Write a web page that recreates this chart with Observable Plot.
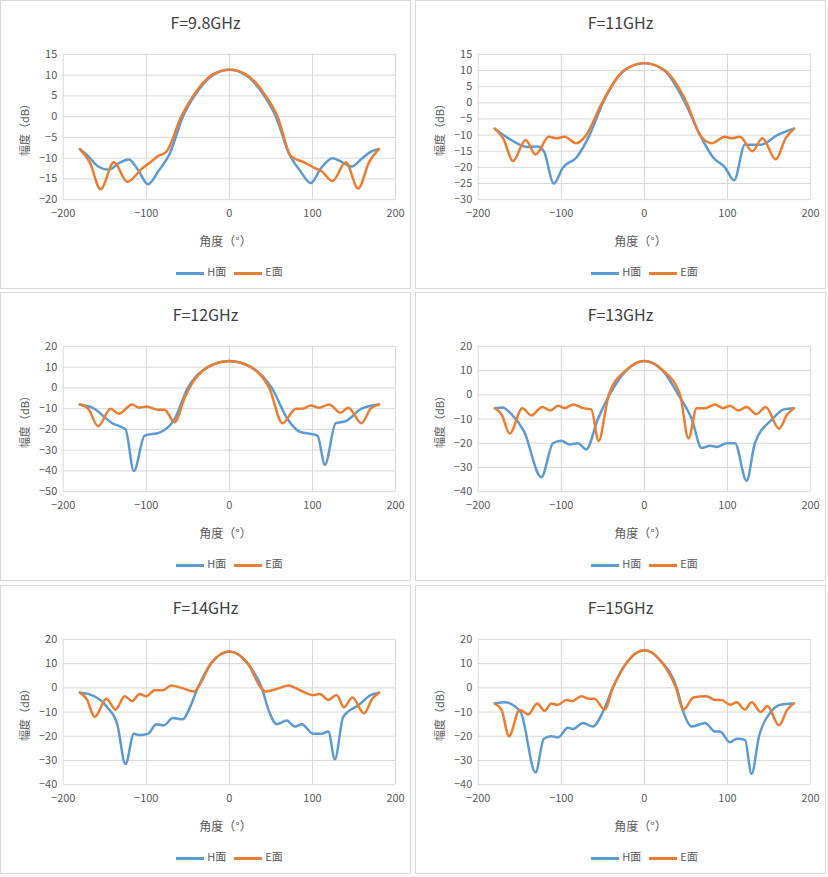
<!DOCTYPE html>
<html><head><meta charset="utf-8">
<script src="https://cdn.jsdelivr.net/npm/d3@7"></script>
<script src="https://cdn.jsdelivr.net/npm/@observablehq/plot@0.6"></script>
<style>
body{margin:0;background:#fff;font-family:"Noto Sans CJK SC","Noto Sans",sans-serif;color:#595959}
.panel{position:absolute;width:411px;height:289px;border:1px solid #d9d9d9;box-sizing:border-box;background:#fff}
.title{position:absolute;top:9px;left:0;right:0;text-align:center;font-size:16px;color:#404040}
.svgwrap{position:absolute;top:35px;left:0}
.xl{position:absolute;top:231px;left:0;right:0;text-align:center;font-size:12px;padding-left:40px}
.lg{position:absolute;top:262px;left:0;right:0;text-align:center;font-size:11px;padding-left:40px}
.sw{display:inline-block;width:28px;height:3px;vertical-align:middle;margin:0 3px 0 8px}
</style></head><body>
<script>
const titles = ["F=9.8GHz","F=11GHz","F=12GHz","F=13GHz","F=14GHz","F=15GHz"];
const yDomains = [[-20,15],[-30,15],[-50,20],[-40,20],[-40,20],[-40,20]];
const yTickStep = [5,5,10,10,10,10];
const xTicks = [-200,-100,0,100,200];

// [angle, dB]
const H98 = [[-180,-7.8],[-170,-9.5],[-158,-12],[-145,-12.8],[-133,-11.2],[-121,-10.3],[-110,-12.8],[-98,-16.3],[-85,-13],[-72,-9],[-56,0],[-42,5],[-20,10],[0,11.3],[20,10],[42,5],[56,0],[72,-9],[85,-13],[98,-16],[110,-12.5],[124,-10],[136,-11],[147,-12],[160,-10],[170,-8.5],[180,-7.8]];
const E98 = [[-180,-7.8],[-168,-11],[-155,-17.5],[-139,-11],[-123,-15.7],[-105,-12.5],[-95,-11],[-86,-9.5],[-76,-8.5],[-58,0],[-42,5.5],[-20,10.2],[0,11.3],[20,10.2],[42,5.5],[58,0],[74,-9.5],[90,-11],[104,-12.5],[110,-13],[124,-15.5],[140,-11],[155,-17.3],[168,-11],[180,-7.8]];
const H11 = [[-180,-8],[-157,-12],[-141,-13.7],[-129,-13.5],[-121,-15],[-109,-25],[-98,-20],[-82,-17],[-66,-10],[-50,0],[-24,10],[0,12.3],[24,10],[49,0],[67,-10],[83,-17],[97,-20],[108,-24],[121,-13],[140,-13],[160,-10],[180,-8]];
const E11 = [[-180,-8],[-170,-11],[-158,-18],[-143,-11.5],[-131,-16],[-115,-10.5],[-106,-11],[-96,-10.5],[-82,-12.5],[-70,-10],[-51,0],[-24,10.2],[0,12.3],[24,10.2],[51,0],[67,-10],[81,-12.5],[97,-10.5],[105,-11],[115,-10.5],[130,-15],[142,-11],[158,-17.5],[170,-11],[180,-8]];
const H12 = [[-180,-8],[-165,-9.5],[-141,-17],[-125,-20],[-115,-40],[-102,-23],[-84,-21.5],[-66,-15],[-50,0],[-26,10],[0,13],[26,10],[51,0],[70,-15],[84,-21],[106,-23],[115,-37],[128,-17],[140,-16],[159,-10],[180,-8]];
const E12 = [[-180,-8],[-170,-10],[-158,-18.5],[-143,-10],[-133,-12.5],[-117,-8],[-109,-9.5],[-100,-9],[-86,-10.5],[-78,-10.5],[-66,-16.5],[-54,-5],[-48,0],[-26,10],[0,13],[26,10],[48,0],[64,-17],[80,-10],[88,-10],[98,-8.5],[108,-9.5],[120,-8],[134,-12],[143,-9.5],[159,-17],[170,-10],[180,-8]];
const H13 = [[-180,-5.5],[-171,-5.2],[-160,-8],[-145,-15],[-124,-34],[-110,-20],[-100,-19],[-90,-20.5],[-80,-20],[-70,-22.5],[-56,-10],[-42,0],[-22,10],[0,14],[22,10],[41,0],[57,-10],[69,-22],[79,-21],[87,-21.5],[99,-20],[109,-20],[123,-35.5],[133,-20],[154,-10],[168,-6],[180,-5.5]];
const E13 = [[-180,-5.5],[-172,-8],[-162,-16],[-147,-5.5],[-136,-8.5],[-123,-5],[-113,-6.5],[-104,-4.5],[-96,-5.5],[-86,-4],[-74,-5.5],[-64,-6],[-55,-19],[-46,-5],[-43,0],[-22,10.2],[0,14],[22,10.2],[43,0],[53,-18],[63,-5.5],[73,-5.5],[85,-4],[95,-5.5],[103,-4.5],[113,-6.5],[123,-5],[135,-8],[146,-5],[162,-14],[172,-8],[180,-5.5]];
const H14 = [[-180,-2],[-170,-2.5],[-147,-8],[-135,-15],[-125,-31.5],[-115,-19],[-108,-19.5],[-98,-19],[-88,-15],[-79,-15.5],[-68,-12.5],[-56,-13],[-50,-10],[-38,0],[-22,10],[0,15],[22,10],[39,0],[48,-10],[57,-15],[69,-13.5],[79,-16],[87,-15],[101,-19],[111,-19],[119,-18],[127,-29.5],[137,-12],[156,-7],[170,-3],[180,-2]];
const E14 = [[-180,-2],[-172,-4.5],[-162,-12],[-148,-4.5],[-137,-9],[-126,-3.5],[-117,-5.5],[-108,-2.5],[-100,-3.5],[-90,-1],[-80,-1],[-70,1],[-58,0],[-42,-1.5],[-38,0],[-22,10.2],[0,15],[22,10.2],[38,0],[43,-1.5],[57,-0.5],[71,1],[85,-1],[101,-3],[109,-2.5],[119,-5],[129,-3],[138,-8],[148,-4],[162,-10.5],[172,-4.5],[180,-2]];
const H15 = [[-180,-6.5],[-168,-6],[-149,-10],[-131,-35],[-121,-21],[-112,-20],[-104,-20.5],[-92,-16.5],[-86,-17],[-74,-14.5],[-62,-16],[-50,-10],[-38,0],[-20,11],[0,15.5],[20,11],[39,0],[47,-10],[57,-16],[73,-14.5],[85,-18],[91,-18],[103,-22.5],[111,-21],[121,-21.5],[129,-35.5],[138,-20],[152,-10],[164,-7],[180,-6.5]];
const E15 = [[-180,-6.5],[-172,-9],[-163,-20],[-150,-9],[-140,-11],[-129,-6.5],[-120,-9.5],[-112,-6.5],[-104,-7],[-94,-5],[-87,-5.5],[-76,-3.5],[-66,-4.5],[-60,-4.5],[-48,-9],[-38,0],[-20,11],[0,15.5],[20,11],[38,0],[47,-9],[59,-4],[75,-3.5],[85,-5],[93,-5],[103,-7],[111,-6],[121,-9],[129,-6],[140,-10],[148,-7.5],[162,-15.5],[172,-9],[180,-6.5]];

const Hs = [H98,H11,H12,H13,H14,H15];
const Es = [E98,E11,E12,E13,E14,E15];
const lefts = [0,415], tops = [0,292,585];

titles.forEach((t,i)=>{
  const p = document.createElement("div");
  p.className="panel";
  p.style.left = lefts[i%2]+"px"; p.style.top = tops[Math.floor(i/2)]+"px";
  p.innerHTML = `<div class="title">${t}</div><div class="xl">角度（°）</div><div class="lg"><span class="sw" style="background:#5b9bd5"></span>H面<span class="sw" style="background:#ed7d31"></span>E面</div>`;
  const [y0,y1] = yDomains[i];
  const yt = d3.range(y0,y1+0.1,yTickStep[i]);
  const data = [...Hs[i].map(d=>({x:d[0],y:d[1],s:"H"})), ...Es[i].map(d=>({x:d[0],y:d[1],s:"E"}))];
  const svg = Plot.plot({
    width: 411, height: 190,
    marginLeft: 62, marginRight: 15, marginTop: 18, marginBottom: 26,
    style:{fontFamily:"'Noto Sans CJK SC','Noto Sans',sans-serif", fontSize:"11px", color:"#595959", background:"transparent"},
    x:{domain:[-200,200]},
    y:{domain:[y0,y1]},
    color:{domain:["H","E"], range:["#5b9bd5","#ed7d31"]},
    marks:[
      Plot.gridX(xTicks,{stroke:"#d9d9d9",strokeOpacity:1}),
      Plot.gridY(yt,{stroke:"#d9d9d9",strokeOpacity:1}),
      Plot.axisX(xTicks,{tickSize:0, tickPadding:10, label:null, fill:"#595959"}),
      Plot.axisY(yt,{tickSize:0, tickPadding:6, fill:"#595959", label:"幅度（dB）", labelAnchor:"center", labelArrow:"none", labelOffset:42}),
      Plot.line(data,{x:"x",y:"y",z:"s",stroke:"s",strokeWidth:2.5,curve:"monotone-x"})
    ]
  });
  const w = document.createElement("div"); w.className="svgwrap"; w.appendChild(svg);
  p.appendChild(w);
  document.body.appendChild(p);
});
</script>
</body></html>
